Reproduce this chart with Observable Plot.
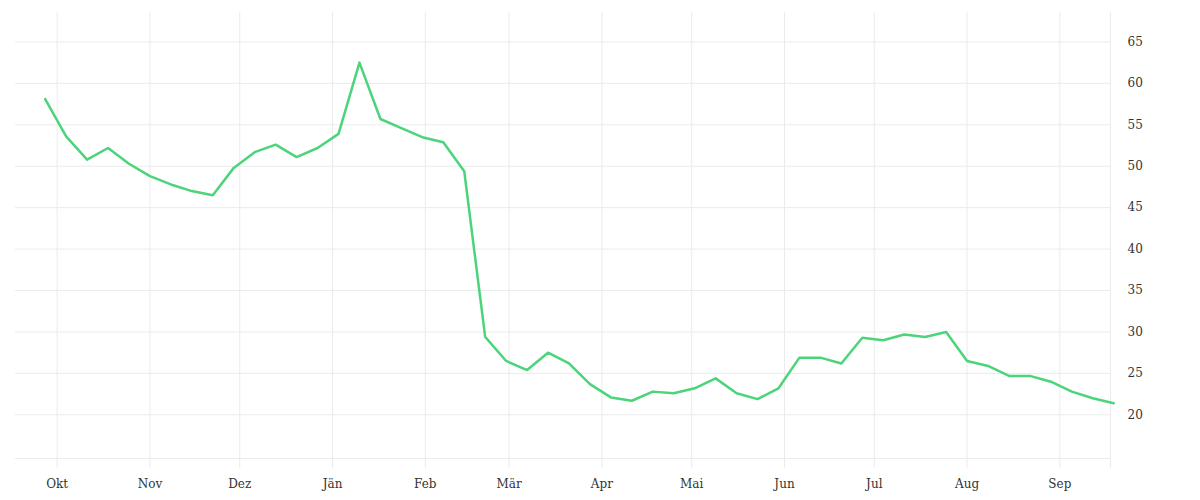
<!DOCTYPE html>
<html>
<head>
<meta charset="utf-8">
<script src="https://cdn.jsdelivr.net/npm/d3@7"></script>
<script src="https://cdn.jsdelivr.net/npm/@observablehq/plot@0.6"></script>
<style>
  html, body { margin: 0; padding: 0; background: #fff; }
  #chart svg { display: block; }
</style>
</head>
<body>
<div id="chart"></div>
<script>
const startDate = "2020-09-27";
const values = [
  58.1, 53.6, 50.8, 52.2, 50.3, 48.8, 47.8, 47.0, 46.5, 49.8,
  51.7, 52.6, 51.1, 52.2, 53.9, 62.5, 55.7, 54.6, 53.5, 52.9,
  49.4, 29.4, 26.5, 25.4, 27.5, 26.2, 23.7, 22.1, 21.7, 22.8,
  22.6, 23.2, 24.4, 22.6, 21.9, 23.2, 26.9, 26.9, 26.2, 29.3,
  29.0, 29.7, 29.4, 30.0, 26.5, 25.9, 24.7, 24.7, 24.0, 22.8,
  22.0, 21.4
];
const monthLabels = ["Okt","Nov","Dez","Jän","Feb","Mär","Apr","Mai","Jun","Jul","Aug","Sep"];
const monthTicks = ["2020-10-01","2020-11-01","2020-12-01","2021-01-01","2021-02-01","2021-03-01",
                    "2021-04-01","2021-05-01","2021-06-01","2021-07-01","2021-08-01","2021-09-01"];
const yTicks = [20, 25, 30, 35, 40, 45, 50, 55, 60, 65];
const xDomain = ["2020-09-17T02:00:00Z", "2021-09-17T22:00:00Z"];
const yDomain = [14.73, 68.55];

const start = new Date(startDate + "T00:00:00Z");
const data = values.map((v, i) => ({ date: d3.utcDay.offset(start, i * 7), value: v }));
const ticks = monthTicks.map(d => new Date(d + "T00:00:00Z"));
const xd = xDomain.map(d => new Date(d));

const chart = Plot.plot({
  width: 1200,
  height: 500,
  marginLeft: 15,
  marginRight: 90,
  marginTop: 12,
  marginBottom: 42,
  style: { fontFamily: "DejaVu Serif", fontSize: "12px", color: "#333", background: "#fff" },
  x: { type: "utc", domain: xd },
  y: { domain: yDomain },
  marks: [
    Plot.ruleY(yTicks, { stroke: "#ebebeb", strokeWidth: 1 }),
    Plot.ruleY([yDomain[0]], { stroke: "#ebebeb", strokeWidth: 1 }),
    Plot.ruleX(ticks, { stroke: "#ebebeb", strokeWidth: 1, insetBottom: -10 }),
    Plot.ruleX([xd[1]], { stroke: "#ebebeb", strokeWidth: 1, insetBottom: -10 }),
    Plot.axisX({
      ticks: ticks,
      tickSize: 0,
      tickPadding: 21,
      tickFormat: (d, i) => monthLabels[i],
      label: null,
      fill: "#333"
    }),
    Plot.axisY({
      anchor: "right",
      ticks: yTicks,
      tickSize: 0,
      tickPadding: 17,
      label: null,
      fill: "#333",
      textAnchor: "start"
    }),
    Plot.line(data, { x: "date", y: "value", stroke: "#4cd47b", strokeWidth: 2.5, curve: "linear" })
  ]
});
document.getElementById("chart").appendChild(chart);
</script>
</body>
</html>
